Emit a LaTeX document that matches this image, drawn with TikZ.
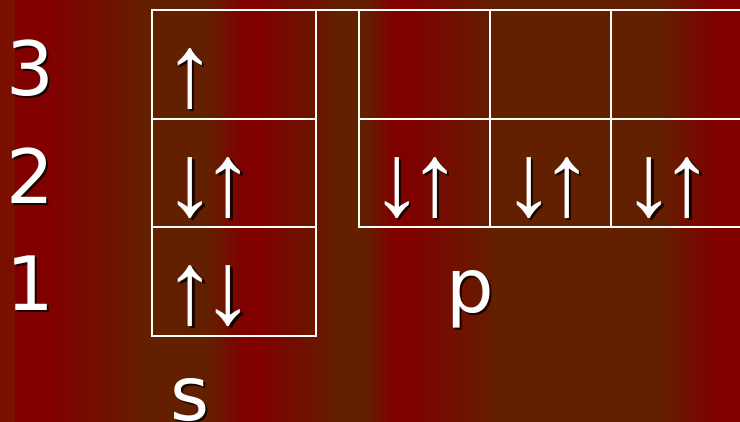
\documentclass[tikz,border=0pt]{standalone}
\usepackage{fontspec}
\setmainfont{DejaVu Sans}
\newfontfamily\arrowfont{Liberation Sans}
\definecolor{bgred}{RGB}{128,0,0}
\definecolor{bgbrown}{RGB}{98,32,0}
\definecolor{bgedge}{RGB}{124,16,0}
\definecolor{shdcol}{RGB}{25,5,0}
\newcommand\shd[1]{\makebox[0pt][l]{\raisebox{-2.5pt}{\hspace{2.5pt}\textcolor{shdcol}{#1}}}#1}
\newcommand\spinpair[2]{\makebox[38pt][c]{\shd{#1}}\makebox[38pt][c]{\shd{#2}}}
\tikzset{
  cell/.style={draw=white, line width=2pt, rectangle, inner sep=0pt, outer sep=0pt, anchor=north west},
  wline/.style={draw=white, line width=2pt},
  lbl/.style={text=white, font=\fontsize{75}{90}\selectfont, inner sep=0pt, anchor=base},
  spin/.style={text=white, font=\arrowfont\fontsize{103}{120}\selectfont, inner sep=0pt, anchor=base},
}
\begin{document}
\begin{tikzpicture}[x=1pt,y=-1pt]
\useasboundingbox (0,0) rectangle (740,421);
\clip (0,0) rectangle (740,421);
% background stripes
\fill[bgedge] (-10,-10) rectangle (15.5,431);
\fill[bgred] (15,-10) rectangle (50.5,431);
\shade[left color=bgred,right color=bgbrown] (50,-10) rectangle (150.5,431);
\fill[bgbrown] (150,-10) rectangle (207.5,431);
\shade[left color=bgbrown,right color=bgred] (207,-10) rectangle (242.5,431);
\fill[bgred] (242,-10) rectangle (258.5,431);
\shade[left color=bgred,right color=bgbrown] (258,-10) rectangle (345.5,431);
\fill[bgbrown] (345,-10) rectangle (365.5,431);
\shade[left color=bgbrown,right color=bgred] (365,-10) rectangle (393.5,431);
\fill[bgred] (393,-10) rectangle (407.5,431);
\shade[left color=bgred,right color=bgbrown] (407,-10) rectangle (500.5,431);
\fill[bgbrown] (500,-10) rectangle (660.5,431);
\shade[left color=bgbrown,right color=bgred] (660,-10) rectangle (715.5,431);
\fill[bgred] (715,-10) rectangle (750,431);
% s cells
\node[cell, minimum width=164pt, minimum height=108.5pt] (s3) at (152,10) {};
\node[cell, minimum width=164pt, minimum height=108.5pt] (s2) at (152,118.5) {};
\node[cell, minimum width=164pt, minimum height=109pt] (s1) at (152,227) {};
% p cells
\node[cell, minimum width=131pt, minimum height=108.5pt] (p3a) at (359,10) {};
\node[cell, minimum width=121pt, minimum height=108.5pt] (p3b) at (490,10) {};
\node[cell, minimum width=140pt, minimum height=108.5pt] (p3c) at (611,10) {};
\node[cell, minimum width=131pt, minimum height=108.5pt] (p2a) at (359,118.5) {};
\node[cell, minimum width=121pt, minimum height=108.5pt] (p2b) at (490,118.5) {};
\node[cell, minimum width=140pt, minimum height=108.5pt] (p2c) at (611,118.5) {};
\draw[wline] (s3.north east) -- (p3a.north west);
% level labels
\node[lbl] (n3) at (30,95) {\shd{3}};
\node[lbl] (n2) at (30,203) {\shd{2}};
\node[lbl] (n1) at (30,310) {\shd{1}};
\node[lbl] (ls) at (190,420) {\shd{s}};
\node[lbl] (lp) at (470,312) {\shd{p}};
% spins
\node[spin] (e3) at (190,106) {\shd{↑}};
\node[spin] (e2) at (209.5,215) {\spinpair{↓}{↑}};
\node[spin] (e1) at (209.5,323) {\spinpair{↑}{↓}};
\node[spin] (ep1) at (416,215) {\spinpair{↓}{↑}};
\node[spin] (ep2) at (548,215) {\spinpair{↓}{↑}};
\node[spin] (ep3) at (668.5,215) {\spinpair{↓}{↑}};
\end{tikzpicture}
\end{document}
